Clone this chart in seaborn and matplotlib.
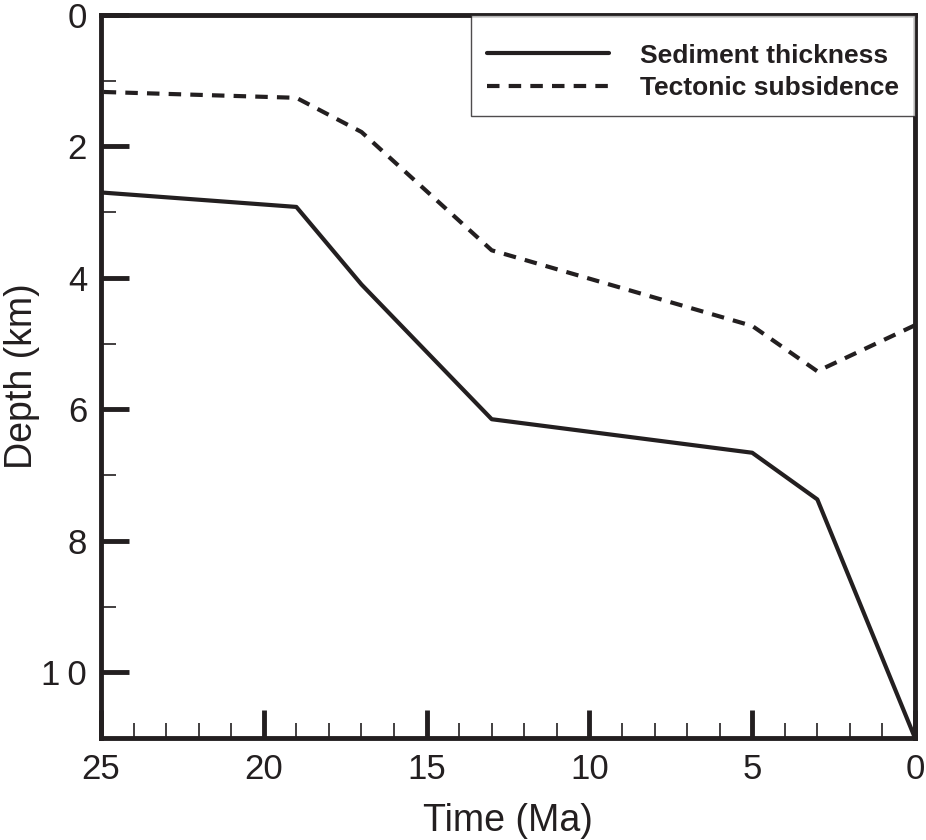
import matplotlib
matplotlib.use("Agg")
import matplotlib.pyplot as plt
import seaborn as sns
import pandas as pd
from matplotlib.ticker import MultipleLocator

time_ma = [25, 19, 17, 13, 5, 3, 0]
sediment_thickness = [2.7, 2.92, 4.1, 6.15, 6.66, 7.37, 11.0]
tectonic_subsidence = [1.17, 1.26, 1.78, 3.58, 4.73, 5.42, 4.72]
x_ticks = [25, 20, 15, 10, 5, 0]
y_ticks = [0, 2, 4, 6, 8, 10]
y_tick_labels = ["0", "2", "4", "6", "8", "1\u20090"]

sns.set_theme(style="white")
plt.rcParams['font.family'] = ['Liberation Sans', 'DejaVu Sans']

df = pd.DataFrame({"Time": time_ma, "Sediment thickness": sediment_thickness,
                   "Tectonic subsidence": tectonic_subsidence})

fig = plt.figure(figsize=(9.26, 8.4), dpi=100)
ax = fig.add_axes([101/926, 1 - 738/840, (915-101)/926, (738-15)/840])

sns.lineplot(data=df, x="Time", y="Sediment thickness", ax=ax, color="#231f20",
             lw=3, label="Sediment thickness")
sns.lineplot(data=df, x="Time", y="Tectonic subsidence", ax=ax, color="#231f20",
             lw=3, dashes=False, label="Tectonic subsidence")
ax.lines[1].set_dashes((3, 2.2))

ax.set_xlim(25, 0)
ax.set_ylim(11, 0)
ax.set_xticks(x_ticks)
ax.set_yticks(y_ticks)
ax.set_yticklabels(y_tick_labels)
ax.xaxis.set_minor_locator(MultipleLocator(1))
ax.yaxis.set_minor_locator(MultipleLocator(1))
ax.tick_params(which="major", direction="in", length=20, width=3.5, color="#231f20",
               labelsize=25, labelcolor="#231f20", pad=10)
ax.tick_params(which="minor", direction="in", length=11, width=1.2, color="#231f20")
ax.tick_params(axis="both", which="both", bottom=True, left=True, top=False, right=False)
ax.tick_params(axis="x", which="major", pad=11)

for s in ax.spines.values():
    s.set_linewidth(3.5)
    s.set_color("#231f20")
    s.set_visible(True)

ax.set_xlabel("Time (Ma)", fontsize=27, color="#231f20", labelpad=12)
ax.set_ylabel("Depth (km)", fontsize=27, color="#231f20")
ax.yaxis.set_label_coords(-0.075, 0.5)

leg = ax.legend(loc="upper right", bbox_to_anchor=(1.0, 1.0), borderaxespad=0,
                frameon=True, fancybox=False, prop={"weight": "bold", "size": 19},
                handlelength=4.6, borderpad=0.6, labelspacing=0.33, handletextpad=1.2,
                title=" ", title_fontsize=3)
leg.get_frame().set_edgecolor("#231f20")
leg.get_frame().set_linewidth(1.0)
for t in leg.get_texts():
    t.set_color("#231f20")

fig.savefig("out.png", dpi=100)
